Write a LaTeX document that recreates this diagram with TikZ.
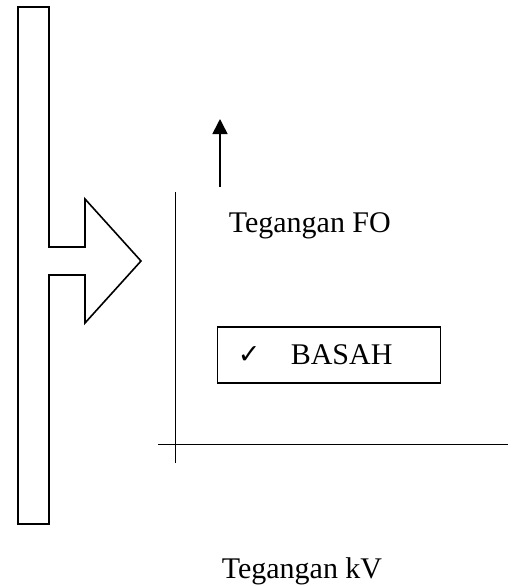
\documentclass[tikz,border=0pt]{standalone}
\usepackage{fontspec}
\setmainfont{Liberation Serif}
\newfontfamily\symfont{DejaVu Sans}
\usetikzlibrary{arrows.meta}
\begin{document}
\begin{tikzpicture}[x=1pt,y=-1pt,line width=1.6pt,
  lbl/.style={font=\fontsize{30}{34}\selectfont,inner sep=0pt,anchor=base west},
  axis/.style={line width=1.9pt},
  ptr/.style={line width=1.6pt,-{Triangle[length=15pt,width=15pt]}}]
\useasboundingbox (0,0) rectangle (515,586);
% big block arrow
\draw[line join=miter] (18,7) -- (49,7) -- (49,247) -- (85,247) -- (85,199)
  -- (141,261) -- (85,323) -- (85,275) -- (49,275) -- (49,524) -- (18,524) -- cycle;
% small upward arrow
\coordinate (arrB) at (220,187);
\coordinate (arrT) at (220,119);
\draw[ptr] (arrB) -- (arrT);
% axes
\coordinate (yB) at (175.5,463);
\coordinate (yT) at (175.5,192);
\coordinate (xL) at (158,444.5);
\coordinate (xR) at (508,444.5);
\draw[axis] (yB) -- (yT);
\draw[axis] (xL) -- (xR);
% labels
\node[lbl] (fo) at (228,232) {Tegangan FO};
\node[draw,line width=1.6pt,minimum width=223pt,minimum height=56pt,inner sep=0pt] (box) at (329,355) {};
\node[anchor=base west,inner sep=0pt,font=\symfont\bfseries\fontsize{27}{27}\selectfont] (chk) at (237,363) {✓};
\node[lbl] (basah) at (290,364) {BASAH};
\node[lbl] (kv) at (221,578) {Tegangan kV};
\end{tikzpicture}
\end{document}
